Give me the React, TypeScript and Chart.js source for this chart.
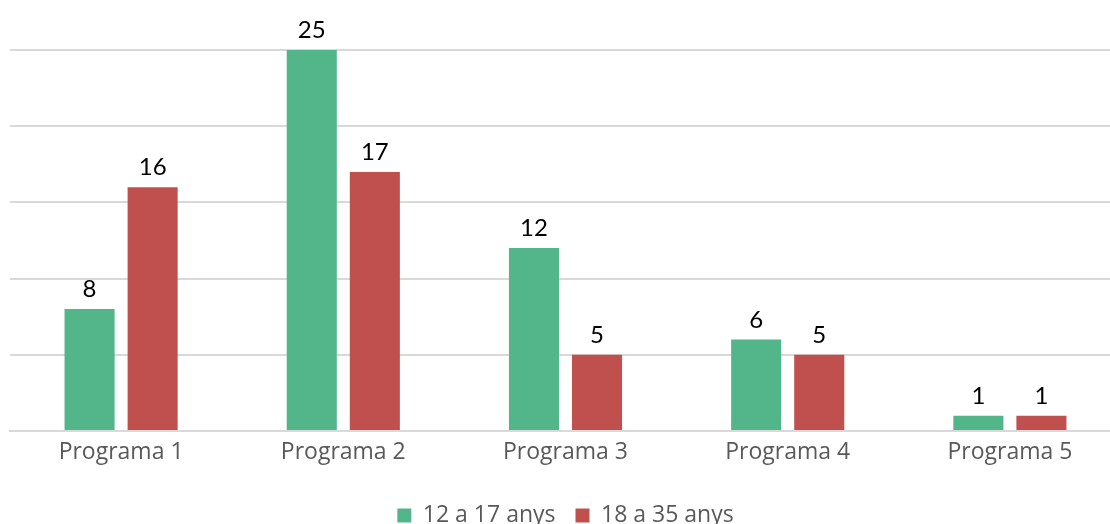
import React, { useEffect, useRef } from "react";
import { Chart, registerables } from "chart.js";

Chart.register(...registerables);

const categories = ["Programa 1", "Programa 2", "Programa 3", "Programa 4", "Programa 5"];
const series1Name = "12 a 17 anys";
const series1Values = [8, 25, 12, 6, 1];
const series2Name = "18 a 35 anys";
const series2Values = [16, 17, 5, 5, 1];
const yTicks = [0, 5, 10, 15, 20, 25];

const FONT = "'Open Sans', Lato, sans-serif";
const LABEL_FONT = "Lato, 'Open Sans', sans-serif";

const valueLabels = {
  id: "valueLabels",
  afterDatasetsDraw(chart: any) {
    const ctx = chart.ctx;
    ctx.save();
    ctx.font = `24px ${LABEL_FONT}`;
    ctx.fillStyle = "#000000";
    ctx.textAlign = "center";
    ctx.textBaseline = "alphabetic";
    chart.data.datasets.forEach((ds: any, i: number) => {
      const meta = chart.getDatasetMeta(i);
      meta.data.forEach((el: any, j: number) => {
        ctx.fillText(String(ds.data[j]), el.x, el.y - 12);
      });
    });
    ctx.restore();
  },
};

export default function App() {
  const ref = useRef<HTMLCanvasElement | null>(null);
  useEffect(() => {
    document.body.style.margin = "0";
    const chart = new Chart(ref.current!, {
      type: "bar",
      data: {
        labels: categories,
        datasets: [
          { label: series1Name, data: series1Values, backgroundColor: "#52b68a" },
          { label: series2Name, data: series2Values, backgroundColor: "#c0504d" },
        ],
      },
      options: {
        animation: false,
        responsive: false,
        devicePixelRatio: 1,
        layout: { padding: { top: 50, left: 10, right: 0, bottom: -13 } },
        datasets: { bar: { categoryPercentage: 0.5676, barPercentage: 0.794 } },
        plugins: {
          legend: {
            position: "bottom",
            labels: {
              boxWidth: 14,
              boxHeight: 14,
              padding: 20,
              color: "#595959",
              font: { family: FONT, size: 23 },
            },
          },
          tooltip: { enabled: false },
        },
        scales: {
          x: {
            grid: { display: false, drawTicks: false },
            border: { color: "#d9d9d9", width: 2 },
            ticks: { color: "#595959", font: { family: FONT, size: 23 }, padding: 8 },
            afterFit: (scale: any) => {
              scale.height = 53;
            },
          },
          y: {
            min: 0,
            max: 25,
            afterBuildTicks: (axis: any) => {
              axis.ticks = yTicks.map((v) => ({ value: v }));
            },
            grid: { color: "#d9d9d9", lineWidth: 2, drawTicks: false },
            border: { display: false },
            ticks: { display: false },
          },
        },
      },
      plugins: [valueLabels],
    });
    return () => chart.destroy();
  }, []);
  return (
    <div style={{ width: 1110, height: 524, overflow: "hidden", position: "relative" }}>
      <canvas ref={ref} width={1121} height={524} style={{ display: "block" }} />
    </div>
  );
}
